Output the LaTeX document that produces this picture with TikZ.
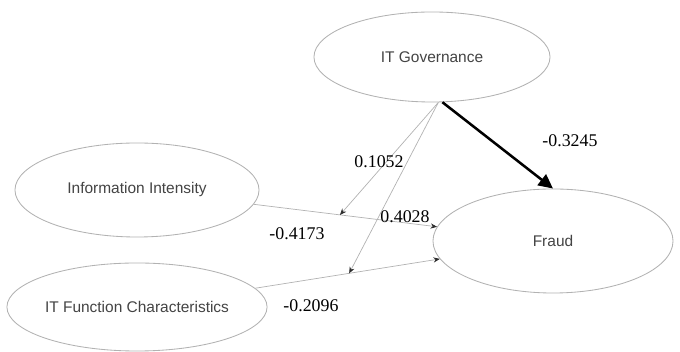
\documentclass[tikz,border=0pt]{standalone}
\usepackage{fontspec}
\setmainfont{Liberation Serif}
\newfontfamily\semsans{Liberation Sans}
\usetikzlibrary{arrows.meta,calc,shapes.geometric}
\definecolor{SemLine}{RGB}{178,178,178}
\definecolor{SemText}{RGB}{68,68,68}
\definecolor{SemTip}{RGB}{45,45,45}
\tikzset{
  sem/latent/.style={
    ellipse,
    draw=SemLine,
    line width=0.6pt,
    fill=white,
    inner sep=0pt,
    align=center,
    text=SemText,
    font=\semsans\fontsize{11}{13}\selectfont
  },
  sem/path/.style={-{Stealth[length=1.6mm,width=1.3mm,color=SemTip]}, line width=0.5pt, draw=SemLine},
  sem/mainpath/.style={-{Triangle[length=3.6mm,width=3.4mm]}, line width=1.8pt, draw=black},
  sem/coef/.style={font=\fontsize{12.7}{15}\selectfont, text=black, inner sep=1pt}
}
\begin{document}
\begin{tikzpicture}[x=0.025cm,y=-0.025cm]
  \useasboundingbox (0,0) rectangle (680,352);
  \node[sem/latent,minimum width=5.9cm,minimum height=2.25cm] (itgov) at (432,57) {IT Governance};
  \node[sem/latent,minimum width=6.1cm,minimum height=2.35cm] (info) at (137,190) {Information Intensity};
  \node[sem/latent,minimum width=6.1cm,minimum height=2.2cm] (itfc) at (137,307) {IT Function Characteristics};
  \node[sem/latent,minimum width=6.0cm,minimum height=2.6cm] (fraud) at (553,241) {Fraud};
  \coordinate (mod1) at ($(info)!0.488!(fraud)$);
  \coordinate (mod2) at ($(itfc)!0.51!(fraud)$);
  \foreach \a in {info,itfc}{
    \draw[sem/path] (\a) -- (fraud);
  }
  \draw[sem/path] (itgov.-82) -- (mod1);
  \draw[sem/path] (itgov.-82) -- (mod2);
  \draw[sem/mainpath] (itgov.-77) -- (fraud.north);
  \node[sem/coef] (cgov) at (570,141) {-0.3245};
  \node[sem/coef] (cmod1) at (379,162) {0.1052};
  \node[sem/coef] (cmod2) at (405,217) {0.4028};
  \node[sem/coef] (cinfo) at (297,234) {-0.4173};
  \node[sem/coef] (citfc) at (311,306) {-0.2096};
\end{tikzpicture}
\end{document}
